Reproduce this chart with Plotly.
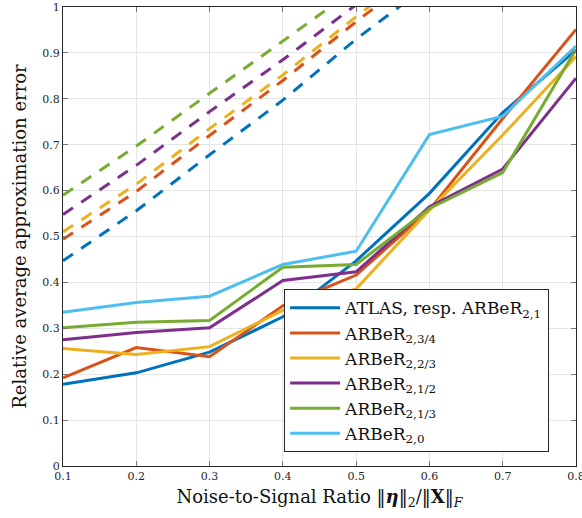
import plotly.graph_objects as go

x = [0.1, 0.2, 0.3, 0.4, 0.5, 0.6, 0.7, 0.8]

names = [
    "ATLAS, resp. ARBeR<sub>2,1</sub>",
    "ARBeR<sub>2,3/4</sub>",
    "ARBeR<sub>2,2/3</sub>",
    "ARBeR<sub>2,1/2</sub>",
    "ARBeR<sub>2,1/3</sub>",
    "ARBeR<sub>2,0</sub>",
]
colors = ["#0072BD", "#D95319", "#EDB120", "#7E2F8E", "#77AC30", "#4DBEEE"]

solid_atlas = [0.178, 0.203, 0.248, 0.325, 0.447, 0.594, 0.770, 0.906]
solid_34 = [0.192, 0.258, 0.238, 0.349, 0.416, 0.558, 0.757, 0.951]
solid_23 = [0.256, 0.243, 0.260, 0.339, 0.386, 0.558, 0.721, 0.892]
solid_12 = [0.275, 0.291, 0.301, 0.404, 0.423, 0.565, 0.647, 0.845]
solid_13 = [0.301, 0.313, 0.317, 0.433, 0.439, 0.561, 0.639, 0.908]
solid_0 = [0.335, 0.356, 0.370, 0.439, 0.468, 0.722, 0.762, 0.915]

dx = [0.1, 0.2, 0.3, 0.4, 0.5, 0.6]
dash_atlas = [0.447, 0.556, 0.678, 0.797, 0.930, 1.05]
dash_34 = [0.494, 0.598, 0.720, 0.840, 0.968, 1.09]
dash_23 = [0.510, 0.614, 0.735, 0.852, 0.979, 1.10]
dash_12 = [0.548, 0.655, 0.772, 0.885, 1.005, 1.12]
dash_13 = [0.590, 0.697, 0.812, 0.925, 1.040, 1.16]

solids = [solid_atlas, solid_34, solid_23, solid_12, solid_13, solid_0]
dashes = [dash_atlas, dash_34, dash_23, dash_12, dash_13]

fig = go.Figure()
for d, c in zip(dashes, colors):
    fig.add_trace(go.Scatter(x=dx, y=d, mode="lines", showlegend=False,
                             line=dict(color=c, width=3, dash="12px,10px")))
for s, c, n in zip(solids, colors, names):
    fig.add_trace(go.Scatter(x=x, y=s, mode="lines", name=n,
                             line=dict(color=c, width=3)))

serif = "DejaVu Serif"
axcol = "#262626"
fig.update_layout(
    width=582, height=518,
    margin=dict(l=63, r=6, t=7, b=52, autoexpand=False),
    paper_bgcolor="white", plot_bgcolor="white",
    font=dict(family=serif, color=axcol),
    showlegend=True,
    legend=dict(
        x=0.431, y=0.03, xanchor="left", yanchor="bottom",
        bgcolor="white", bordercolor=axcol, borderwidth=1,
        font=dict(family=serif, size=17, color="#111"),
        itemwidth=50, tracegroupgap=0,
    ),
    xaxis=dict(
        range=[0.1, 0.8], tickvals=[0.1, 0.2, 0.3, 0.4, 0.5, 0.6, 0.7, 0.8],
        ticktext=["0.1", "0.2", "0.3", "0.4", "0.5", "0.6", "0.7", "0.8"],
        ticklabeloverflow="allow", automargin=False,
        showgrid=True, gridcolor="#e5e5e5", gridwidth=1,
        showline=True, linecolor=axcol, linewidth=1, mirror="ticks",
        ticks="inside", ticklen=5, tickcolor="#777",
        tickfont=dict(family=serif, size=11, color=axcol),
        zeroline=False,
        title=dict(text="Noise-to-Signal Ratio ‖<b><i>η</i></b>‖<sub>2</sub>/‖<b>X</b>‖<sub><i>F</i></sub>",
                   font=dict(family=serif, size=18, color="#111"), standoff=8),
    ),
    yaxis=dict(
        range=[0, 1], tickvals=[0, 0.1, 0.2, 0.3, 0.4, 0.5, 0.6, 0.7, 0.8, 0.9, 1],
        ticktext=["0", "0.1", "0.2", "0.3", "0.4", "0.5", "0.6", "0.7", "0.8", "0.9", "1"],
        ticklabeloverflow="allow", automargin=False,
        showgrid=True, gridcolor="#e5e5e5", gridwidth=1,
        showline=True, linecolor=axcol, linewidth=1, mirror="ticks",
        ticks="inside", ticklen=5, tickcolor="#777",
        tickfont=dict(family=serif, size=11, color=axcol),
        zeroline=False,
        title=dict(text="Relative average approximation error",
                   font=dict(family=serif, size=18, color="#111"), standoff=10),
    ),
)

fig.write_html("out.html")
